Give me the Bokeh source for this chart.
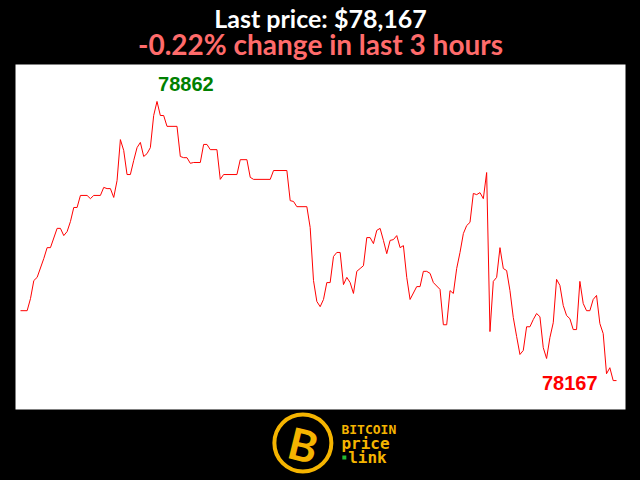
from bokeh.plotting import figure
from bokeh.layouts import column
from bokeh.models import Range1d
from bokeh.embed import file_html
from bokeh.resources import INLINE
from bokeh.core.properties import value

# ---- data (minutes from start of 3-hour window, price in USD) ----
minutes = [0, 2, 3, 4, 5, 7, 8, 9, 11, 12, 13, 14, 15, 16, 17, 18, 20, 21, 22, 24,
           25, 26, 27, 28, 29, 30, 31, 32, 33, 34, 35, 36, 37, 38, 39, 40, 41, 42, 43, 44,
           47, 48, 49, 50, 51, 52, 54, 55, 56, 57, 59, 60, 61, 65, 66, 68, 69, 70, 75, 76,
           80, 81, 82, 83, 86, 87, 88, 89, 90, 91, 92, 93, 94, 95, 96, 97, 98, 99, 100, 101,
           102, 103, 104, 105, 106, 107, 108, 109, 110, 111, 112, 113, 114, 115, 116, 117,
           119, 120, 121, 122, 123, 124, 126, 127, 128, 129, 130, 131, 132, 133, 134, 135,
           136, 137, 138, 139, 140, 141, 142, 143, 144, 145, 146, 147, 148, 149, 150, 151,
           152, 153, 154, 155, 156, 157, 158, 159, 160, 161, 162, 163, 164, 165, 166, 167,
           168, 169, 170, 171, 172, 173, 174, 175, 176, 177, 178, 179]
prices = [78341, 78341, 78371, 78416, 78424, 78471, 78498, 78498, 78546, 78546, 78528, 78538,
          78563, 78598, 78598, 78628, 78628, 78620, 78628, 78628, 78648, 78645, 78645, 78623,
          78665, 78767, 78740, 78680, 78680, 78715, 78747, 78760, 78725, 78732, 78747, 78827,
          78862, 78827, 78827, 78800, 78800, 78725, 78722, 78722, 78708, 78710, 78710, 78755,
          78755, 78742, 78742, 78668, 78680, 78680, 78717, 78717, 78673, 78668, 78668, 78690,
          78690, 78615, 78613, 78600, 78600, 78548, 78416, 78364, 78351, 78369, 78411, 78411,
          78476, 78486, 78486, 78406, 78424, 78411, 78384, 78439, 78446, 78453, 78523, 78523,
          78508, 78541, 78546, 78516, 78483, 78516, 78518, 78528, 78498, 78503, 78424, 78369,
          78401, 78401, 78439, 78439, 78434, 78411, 78394, 78306, 78306, 78391, 78384, 78446,
          78486, 78533, 78553, 78561, 78633, 78630, 78635, 78620, 78685, 78289, 78414, 78424,
          78498, 78446, 78441, 78391, 78324, 78277, 78232, 78242, 78301, 78301, 78319, 78334,
          78326, 78249, 78222, 78274, 78311, 78419, 78404, 78354, 78329, 78321, 78294, 78294,
          78414, 78359, 78341, 78341, 78369, 78379, 78309, 78284, 78184, 78199, 78167, 78167]

title_text = "Last price: $78,167"
subtitle_text = "-0.22% change in last 3 hours"
logo_words = ["BITCOIN", "price", "link"]

GOLD = "#f5b400"

# ---- header ----
head = figure(width=640, height=64, x_range=Range1d(0, 640), y_range=Range1d(0, 64),
              output_backend="svg", toolbar_location=None,
              x_axis_location=None, y_axis_location=None,
              min_border=0, background_fill_color="black", border_fill_color="black",
              outline_line_color=None)
head.grid.visible = False
head.text(x=[320], y=[46.5], text=[title_text], text_color="white",
          text_font=value("Lato"), text_font_style="bold", text_font_size="25px",
          text_align="center", text_baseline="alphabetic")
head.text(x=[320], y=[21], text=[subtitle_text], text_color="#ff6b6b",
          text_font=value("Lato"), text_font_style="bold", text_font_size="28px",
          text_align="center", text_baseline="alphabetic")

# ---- main chart ----
p = figure(width=640, height=346, x_range=Range1d(-1.5, 181.7), y_range=Range1d(78095, 78954),
           output_backend="svg", toolbar_location=None,
           x_axis_location=None, y_axis_location=None,
           min_border_left=15, min_border_right=15, min_border_top=0, min_border_bottom=1,
           background_fill_color="white", border_fill_color="black", outline_line_color=None)
p.grid.visible = False
p.line(minutes, prices, line_color="red", line_width=1)

imax = prices.index(max(prices))
p.text(x=[minutes[imax]], y=[prices[imax]], text=[str(prices[imax])], text_color="green",
       text_font=value("Liberation Sans"), text_font_style="bold", text_font_size="20px",
       text_align="left", text_baseline="alphabetic", x_offset=1, y_offset=-17)
p.text(x=[minutes[-1]], y=[prices[-1]], text=[str(prices[-1])], text_color="red",
       text_font=value("Liberation Sans"), text_font_style="bold", text_font_size="20px",
       text_align="right", text_baseline="alphabetic", x_offset=-19, y_offset=2)

# ---- logo ----
logo = figure(width=640, height=70, x_range=Range1d(0, 640), y_range=Range1d(0, 70),
              output_backend="svg", toolbar_location=None,
              x_axis_location=None, y_axis_location=None,
              min_border=0, background_fill_color="black", border_fill_color="black",
              outline_line_color=None)
logo.grid.visible = False
logo.scatter(x=[301.5], y=[37.5], size=57, fill_color="black", line_color=GOLD, line_width=4)
logo.text(x=[302], y=[36], text=["B"], text_color=GOLD, angle=-0.24,
          text_font=value("Lato"), text_font_style="bold", text_font_size="44px",
          text_align="center", text_baseline="middle")
logo.text(x=[342], y=[51], text=[logo_words[0]], text_color=GOLD,
          text_font=value("DejaVu Sans Mono"), text_font_style="bold", text_font_size="13px",
          text_align="left", text_baseline="middle")
logo.text(x=[342], y=[37], text=[logo_words[1]], text_color=GOLD,
          text_font=value("DejaVu Sans Mono"), text_font_style="bold", text_font_size="16px",
          text_align="left", text_baseline="middle")
logo.text(x=[349], y=[23], text=[logo_words[2]], text_color=GOLD,
          text_font=value("DejaVu Sans Mono"), text_font_style="bold", text_font_size="16px",
          text_align="left", text_baseline="middle")
logo.scatter(x=[345], y=[23], size=4, marker="square", fill_color="#22bb33", line_color=None)

layout = column(head, p, logo, spacing=0)

html = file_html(layout, INLINE)
html = html.replace("</head>", "<style>html,body{background-color:#000000;}</style></head>", 1)
open("out.html", "w").write(html)
